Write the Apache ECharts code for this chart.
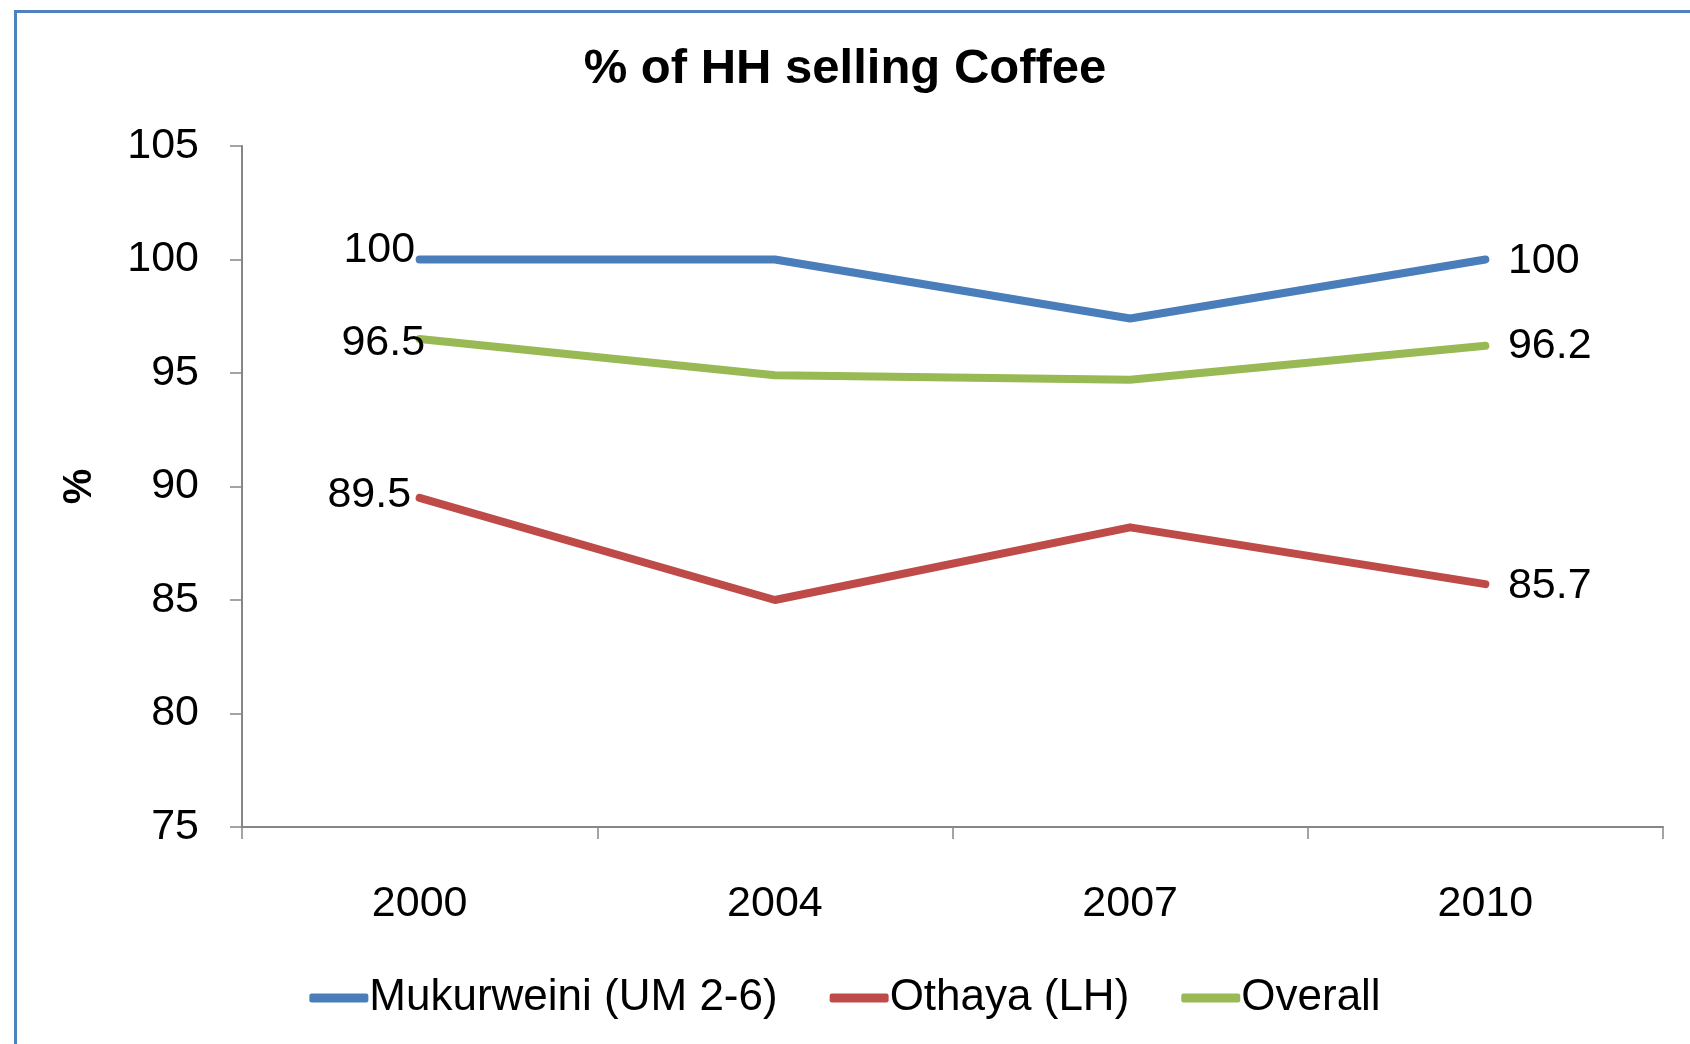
<!DOCTYPE html>
<html>
<head>
<meta charset="utf-8">
<script src="https://cdn.jsdelivr.net/npm/echarts@6/dist/echarts.min.js"></script>
<style>
    html, body { margin: 0; padding: 0; background: #fff; }
    #chart { width: 1690px; height: 1044px; }
</style>
</head>
<body>
<div id="chart"></div>
<script>
const years = ['2000', '2004', '2007', '2010'];
const mukurweini = [100, 100, 97.4, 100];
const othaya = [89.5, 85.0, 88.2, 85.7];
const overall = [96.5, 94.9, 94.7, 96.2];
const yTicks = { min: 75, max: 105, step: 5 };

const FONT = '"Liberation Sans", Arial, sans-serif';

document.addEventListener('DOMContentLoaded', () => {
    const chart = echarts.init(document.getElementById('chart'));

    // labels only on the first and last point
    function withEndLabels(values, first, lastOffset) {
        return values.map((v, i) => {
            if (i === 0) {
                return { value: v, label: { show: true, position: 'left', distance: first.distance, offset: first.offset } };
            }
            if (i === values.length - 1) {
                return { value: v, label: { show: true, position: 'right', distance: 22, offset: lastOffset } };
            }
            return v;
        });
    }

    function makeSeries(name, color, values, first, lastOffset) {
        return {
            name,
            type: 'line',
            data: withEndLabels(values, first, lastOffset),
            symbol: 'circle',
            symbolSize: 1,
            showSymbol: true,
            itemStyle: { color },
            lineStyle: { color, width: 8, cap: 'round', join: 'round' },
            label: { show: false, color: '#000', fontSize: 43, fontFamily: FONT },
            emphasis: { disabled: true },
            animation: false
        };
    }

    const option = {
        backgroundColor: '#fff',
        animation: false,
        title: {
            text: '% of HH selling Coffee',
            left: 'center',
            top: 40,
            textStyle: { fontSize: 49, fontWeight: 'bold', color: '#000', fontFamily: FONT }
        },
        graphic: [{
            type: 'rect',
            left: 13,
            top: 9,
            shape: { width: 1700, height: 1100 },
            style: { fill: 'none', stroke: '#4F81BD', lineWidth: 3 },
            silent: true
        }],
        legend: {
            bottom: 19,
            left: 'center',
            itemWidth: 59,
            itemHeight: 9,
            itemGap: 52,
            icon: 'roundRect',
            textStyle: { fontSize: 44, color: '#000', fontFamily: FONT, padding: [0, 0, 0, -4] },
            data: ['Mukurweini (UM 2-6)', 'Othaya (LH)', 'Overall']
        },
        grid: { left: 242, right: 27, top: 146, bottom: 217, containLabel: false },
        xAxis: {
            type: 'category',
            data: years,
            boundaryGap: true,
            axisLine: { lineStyle: { color: '#868686', width: 2 } },
            axisTick: { show: true, length: 12, lineStyle: { color: '#868686', width: 1.5 } },
            axisLabel: { fontSize: 43, color: '#000', fontFamily: FONT, margin: 56 },
            splitLine: { show: false }
        },
        yAxis: {
            type: 'value',
            min: yTicks.min,
            max: yTicks.max,
            interval: yTicks.step,
            name: '%',
            nameLocation: 'middle',
            nameGap: 142,
            nameRotate: 90,
            nameTextStyle: { fontSize: 40, fontWeight: 'bold', color: '#000', fontFamily: FONT },
            axisLine: { show: true, lineStyle: { color: '#868686', width: 2 } },
            axisTick: { show: true, inside: false, length: 12, lineStyle: { color: '#868686', width: 1.5 } },
            axisLabel: { fontSize: 43, color: '#000', fontFamily: FONT, margin: 43 },
            splitLine: { show: false }
        },
        series: [
            makeSeries('Mukurweini (UM 2-6)', '#4A7EBB', mukurweini, { distance: 4, offset: [0, -9] }, [0, 2]),
            makeSeries('Othaya (LH)', '#BE4B48', othaya, { distance: 8, offset: [0, -3] }, [0, 2]),
            makeSeries('Overall', '#98B954', overall, { distance: -6, offset: [0, 4] }, [0, 0])
        ]
    };

    chart.setOption(option);
});
</script>
</body>
</html>
